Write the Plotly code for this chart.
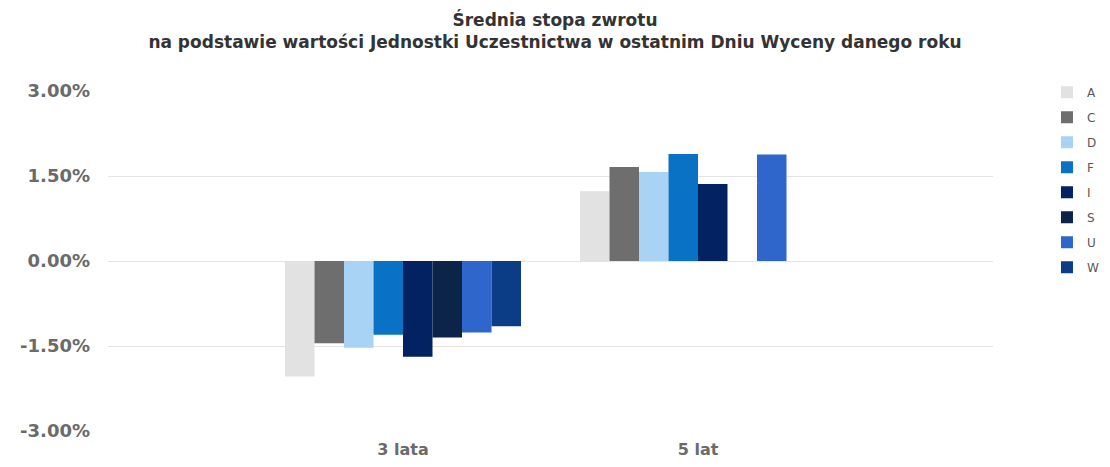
import plotly.graph_objects as go

categories = ["3 lata", "5 lat"]
series_names = ["A", "C", "D", "F", "I", "S", "U", "W"]
values_3_lata = [-0.0204, -0.0145, -0.0153, -0.0130, -0.0169, -0.0135, -0.0126, -0.0115]
values_5_lat = [0.0123, 0.0166, 0.0157, 0.0189, 0.0136, None, 0.0188, None]
colors = ["#e2e2e2", "#6e6e6e", "#a8d3f4", "#0a72c4", "#032262", "#0b2447", "#2f66cc", "#0b3c86"]
tick_vals = [-0.03, -0.015, 0.0, 0.015, 0.03]
tick_labels = ["-3.00%", "-1.50%", "0.00%", "1.50%", "3.00%"]

fig = go.Figure()
for i, name in enumerate(series_names):
    fig.add_trace(go.Bar(
        x=categories,
        y=[values_3_lata[i], values_5_lat[i]],
        name=name,
        legendgroup=name,
        marker=dict(color=colors[i], line=dict(width=0)),
    ))

fig.update_layout(
    width=1094, height=451,
    paper_bgcolor="white", plot_bgcolor="white",
    margin=dict(l=100, r=109, t=83, b=28, autoexpand=False),
    barmode="group", bargap=0.2, bargroupgap=0,
    title=dict(
        text="Średnia stopa zwrotu<br>na podstawie wartości Jednostki Uczestnictwa w ostatnim Dniu Wyceny danego roku",
        x=0.5, xanchor="center", yref="container", y=0.96, yanchor="top",
        font=dict(family="DejaVu Sans, sans-serif", size=17, color="#333333", weight="bold"),
    ),
    showlegend=True,
    legend=dict(
        x=1.061, xanchor="left", y=1.039, yanchor="top",
        font=dict(family="DejaVu Sans, sans-serif", size=12, color="#595959"),
        tracegroupgap=6, traceorder="grouped",
    ),
    font=dict(family="DejaVu Sans, sans-serif", color="#666666"),
)
fig.update_xaxes(
    type="category", range=[-1, 2], automargin=False,
    showgrid=False, showline=False, zeroline=False, ticks="",
    tickfont=dict(size=16, color="#6a6a6a", weight="bold"),
    ticklabelstandoff=7,
)
fig.update_yaxes(
    range=[-0.03, 0.03], tickvals=tick_vals, ticktext=tick_labels, automargin=False,
    showgrid=True, gridcolor="#e4e4e4", gridwidth=1,
    zeroline=True, zerolinecolor="#e4e4e4", zerolinewidth=1,
    showline=False, ticks="",
    tickfont=dict(size=18, color="#6a6a6a", weight="bold"),
    ticklabelstandoff=17,
)

fig.write_html("out.html")
